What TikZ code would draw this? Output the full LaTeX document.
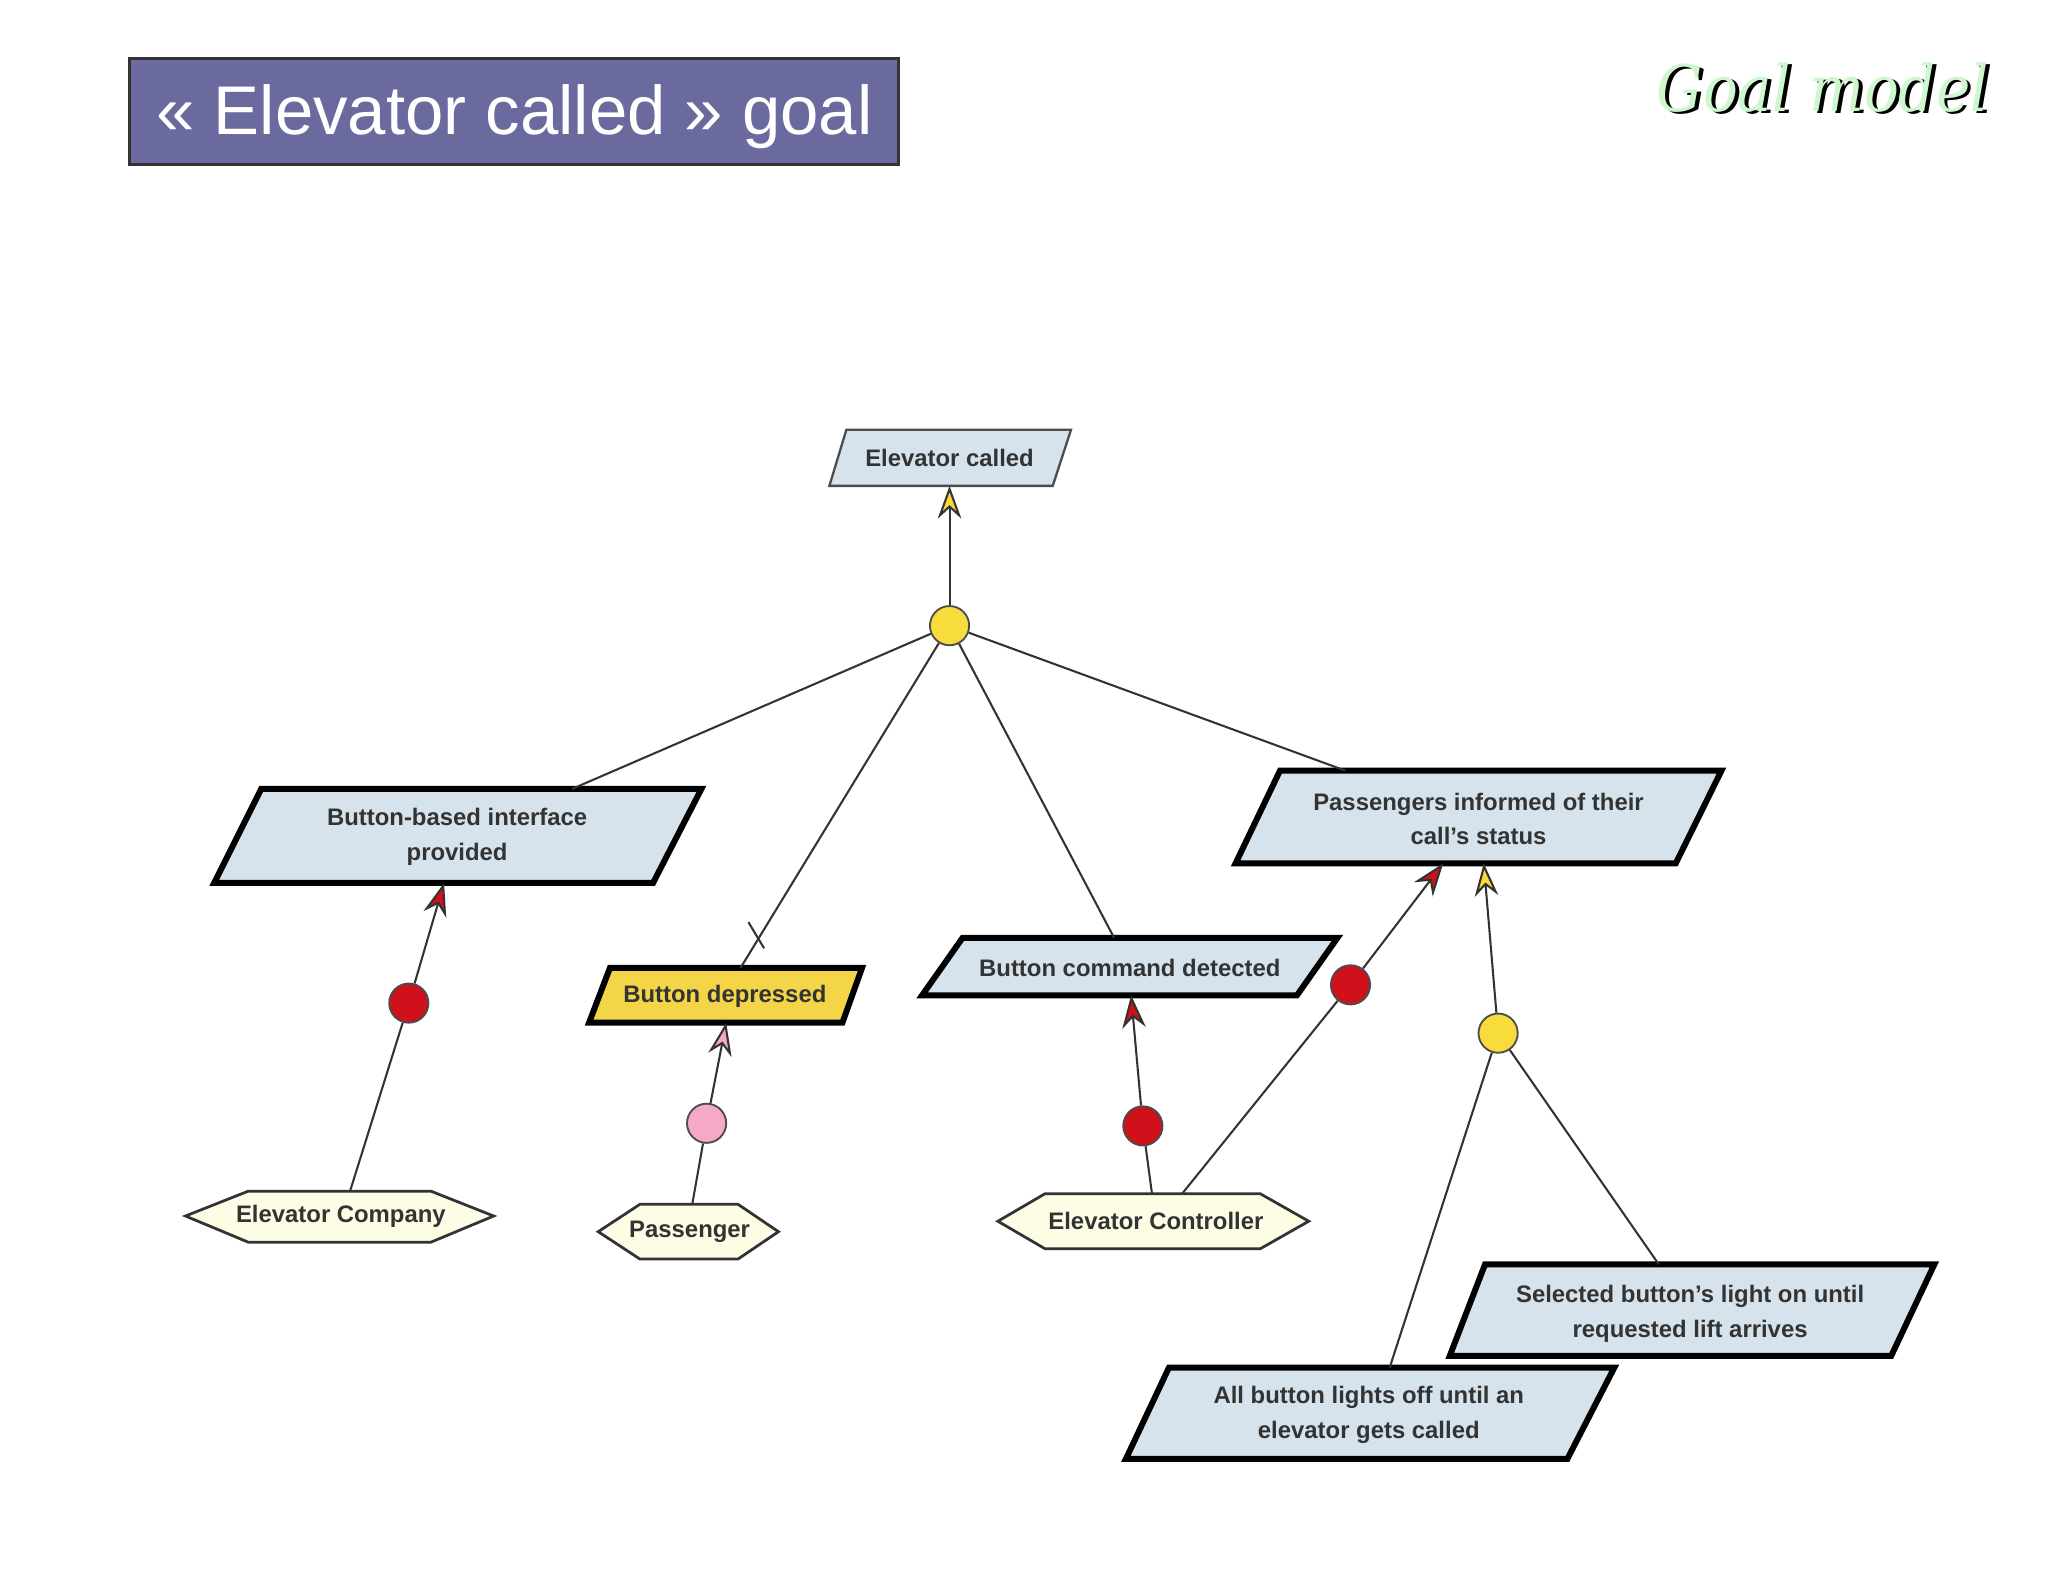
\documentclass[tikz,border=0pt]{standalone}
\usepackage{fontspec}
\setmainfont{Liberation Sans}
\setsansfont{Liberation Sans}
\newfontfamily\gmfont{DejaVu Serif Condensed}
\usetikzlibrary{arrows.meta}
\definecolor{gbox}{HTML}{D6E3EC}
\definecolor{ybox}{HTML}{F3D547}
\definecolor{hexf}{HTML}{FDFDE6}
\definecolor{titlef}{HTML}{6A6A9E}
\definecolor{gyel}{HTML}{F7DC3C}
\definecolor{gred}{HTML}{D0101A}
\definecolor{gpink}{HTML}{F6A8C8}
\definecolor{ggreen}{HTML}{CFF7CF}
\begin{document}
\begin{tikzpicture}[x=0.01cm,y=-0.01cm,
  goalbox/.style={draw=black,line width=1.3pt,fill=gbox,line join=miter},
  thinbox/.style={draw=black!70,line width=0.5pt,fill=gbox},
  hexbox/.style={draw=black!80,line width=0.6pt,fill=hexf},
  lbl/.style={font=\bfseries\fontsize{5.2pt}{7.6pt}\selectfont,align=center,text=black!80},
  gmstyle/.style={font=\gmfont\itshape\fontsize{14pt}{18pt}\selectfont},
  link/.style={draw=black!80,line width=0.45pt},
  andnode/.style={circle,draw=black!70,line width=0.4pt,minimum size=0.3cm,inner sep=0pt},
  yarr/.style={link,-{Stealth[length=0.25cm,width=0.18cm,fill=gyel]}},
  rarr/.style={link,-{Stealth[length=0.25cm,width=0.18cm,fill=gred]}},
  parr/.style={link,-{Stealth[length=0.25cm,width=0.18cm,fill=gpink]}}]
\useasboundingbox (0,0) rectangle (1568,1211);
\fill[white] (0,0) rectangle (1568,1211);
% title
\draw[fill=titlef,draw=black!80,line width=0.6pt] (99,45) rectangle (688,126);
\node[text=white,font=\fontsize{15pt}{18pt}\selectfont] (title) at (394,89) {« Elevator called » goal};
\node[anchor=base east,gmstyle,text=black] (gms) at (1538,87) {Goal model};
\node[anchor=base east,gmstyle,text=ggreen] (gm) at (1535,85) {Goal model};
% goal boxes
\draw[thinbox] (648,329) -- (820,329) -- (806,372) -- (635,372) -- cycle;
\node[lbl] (ec) at (727,351) {Elevator called};
\draw[goalbox] (200,604) -- (537,604) -- (500,676) -- (164,676) -- cycle;
\node[lbl] (bbi) at (350,641) {Button-based interface\\provided};
\draw[goalbox] (980,590) -- (1318,590) -- (1283,661) -- (946,661) -- cycle;
\node[lbl] (pic) at (1132,627) {Passengers informed of their\\call's status};
\draw[goalbox] (737,718) -- (1024,718) -- (993,762) -- (706,762) -- cycle;
\node[lbl] (bcd) at (865,741) {Button command detected};
\draw[goalbox,fill=ybox] (467,741) -- (660,741) -- (645,783) -- (451,783) -- cycle;
\node[lbl] (bd) at (555,763) {Button depressed};
\draw[goalbox] (1137,968) -- (1481,968) -- (1448,1038) -- (1110,1038) -- cycle;
\node[lbl] (sbl) at (1294,1006) {Selected button's light on until\\requested lift arrives};
\draw[goalbox] (895,1047) -- (1236,1047) -- (1200,1117) -- (862,1117) -- cycle;
\node[lbl] (abl) at (1048,1083) {All button lights off until an\\elevator gets called};
% agents
\draw[hexbox] (142,931) -- (190,912) -- (330,912) -- (378,931) -- (330,951) -- (190,951) -- cycle;
\node[lbl] (comp) at (261,931) {Elevator Company};
\draw[hexbox] (458,943) -- (490,922) -- (565,922) -- (596,943) -- (565,964) -- (490,964) -- cycle;
\node[lbl] (pass) at (528,943) {Passenger};
\draw[hexbox] (764,935) -- (800,914) -- (965,914) -- (1002,935) -- (965,956) -- (800,956) -- cycle;
\node[lbl] (ctrl) at (885,935) {Elevator Controller};
% anchor points
\coordinate (ecB) at (727,372);
\coordinate (bbiT) at (438,604); \coordinate (bbiB) at (340,676);
\coordinate (bdT) at (567,741); \coordinate (bdB) at (556,783);
\coordinate (bcdT) at (853,718); \coordinate (bcdB) at (866,762);
\coordinate (picT) at (1030,590); \coordinate (picB1) at (1105,661); \coordinate (picB2) at (1136,661);
\coordinate (sblT) at (1270,968); \coordinate (ablT) at (1064,1047);
\coordinate (compT) at (268,912); \coordinate (passT) at (530,922);
\coordinate (ctrlT1) at (882,914); \coordinate (ctrlT2) at (905,914);
\coordinate (xa) at (573,706); \coordinate (xb) at (585,726);
% refinement nodes
\node[andnode,fill=gyel] (r1) at (727,479) {};
\node[andnode,fill=gred] (a1) at (313,768) {};
\node[andnode,fill=gpink] (a2) at (541,860) {};
\node[andnode,fill=gred] (a3) at (875,862) {};
\node[andnode,fill=gred] (a4) at (1034,754) {};
\node[andnode,fill=gyel] (r2) at (1147,791) {};
% connectors
\draw[yarr] (r1) -- (ecB);
\draw[link] (r1) -- (bbiT);
\draw[link] (r1) -- (bdT);
\draw[link] (xa) -- (xb);
\draw[link] (r1) -- (bcdT);
\draw[link] (r1) -- (picT);
\draw[rarr] (a1) -- (bbiB);
\draw[link] (compT) -- (a1);
\draw[parr] (a2) -- (bdB);
\draw[link] (passT) -- (a2);
\draw[rarr] (a3) -- (bcdB);
\draw[link] (ctrlT1) -- (a3);
\draw[link] (ctrlT2) -- (a4);
\draw[rarr] (a4) -- (picB1);
\draw[yarr] (r2) -- (picB2);
\draw[link] (r2) -- (ablT);
\draw[link] (r2) -- (sblT);
\end{tikzpicture}
\end{document}
